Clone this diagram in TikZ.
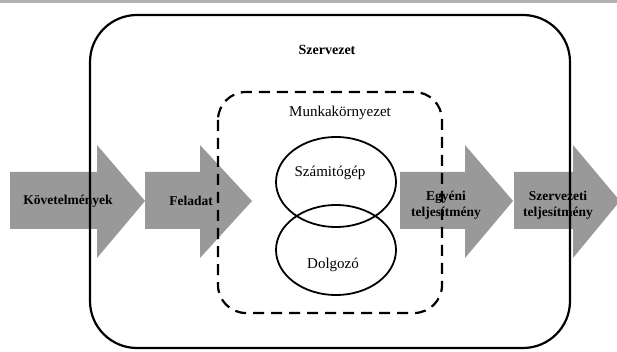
\documentclass[tikz,border=0pt]{standalone}
\usepackage{fontspec}
\setmainfont{Liberation Serif}
\tikzset{
  blockarrow/.style={fill=black!40},
  arrowlabel/.style={font=\bfseries\fontsize{13.5}{16}\selectfont, align=center, inner sep=0pt},
  plainlabel/.style={font=\fontsize{15}{18}\selectfont, inner sep=0pt}
}
\begin{document}
\begin{tikzpicture}[x=1pt, y=-1pt, line join=round]
 \useasboundingbox (0,0) rectangle (617,352);
 \fill[black!30] (0,0) rectangle (617,3);
 % block arrows: shaft start / head start / tip
 \foreach \a/\b/\c in {10/97/145, 145/200/252, 400/465/513, 514/573/620}
   \fill[blockarrow] (\a,172) -- (\b,172) -- (\b,145) -- (\c,201) -- (\b,258) -- (\b,229) -- (\a,229) -- cycle;
 \draw[line width=2.2pt, rounded corners=47pt] (90,15) rectangle (570,348);
 \draw[line width=2.2pt, dash pattern=on 11pt off 7pt, rounded corners=28pt] (218,92) rectangle (442,313);
 \draw[line width=1.8pt] (336,182) ellipse [x radius=60pt, y radius=45pt];
 \draw[line width=1.8pt] (336,250) ellipse [x radius=60pt, y radius=45pt];
 \node[plainlabel, font=\bfseries\fontsize{14}{17}\selectfont] (org) at (327,50) {Szervezet};
 \node[plainlabel] (env) at (340,113) {Munkakörnyezet};
 \node[plainlabel] (pc) at (330,173) {Számitógép};
 \node[plainlabel] (worker) at (333,265) {Dolgozó};
 \node[arrowlabel] (req) at (68,201) {Követelmények};
 \node[arrowlabel] (task) at (191,201) {Feladat};
 \node[arrowlabel] (indiv) at (446,205) {Egyéni\\teljesítmény};
 \node[arrowlabel] (orgperf) at (558,205) {Szervezeti\\teljesítmény};
\end{tikzpicture}
\end{document}
